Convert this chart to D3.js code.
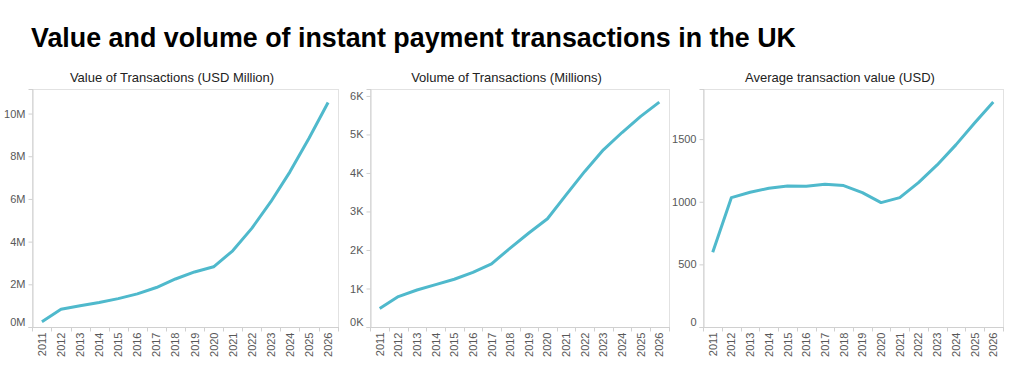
<!DOCTYPE html>
<html>
<head>
<meta charset="utf-8">
<script src="https://cdn.jsdelivr.net/npm/d3@7"></script>
<style>
  html, body { margin: 0; padding: 0; background: #fff; }
  svg { display: block; font-family: Arial, "Liberation Sans", sans-serif; }
</style>
</head>
<body>
<svg id="chart"></svg>
<script>
const W = 1024;
const H = 369;

// ── Data ──────────────────────────────────────────────────────────────────────

const YEARS = d3.range(2011, 2027).map(String);

// USD million
const VALUE = [0.25e6, 0.83e6, 1.0e6, 1.15e6, 1.33e6, 1.55e6, 1.85e6, 2.25e6,
               2.58e6, 2.82e6, 3.57e6, 4.62e6, 5.87e6, 7.27e6, 8.84e6, 10.52e6];

// millions of transactions
const VOLUME = [480, 790, 960, 1100, 1240, 1420, 1640, 2050,
                2440, 2810, 3430, 4040, 4600, 5050, 5470, 5840];

// USD per transaction
const AVERAGE = [596, 1033, 1076, 1108, 1126, 1124, 1140, 1129,
                 1073, 993, 1033, 1153, 1294, 1454, 1628, 1796];

const VALUE_TICKS   = [0, 2e6, 4e6, 6e6, 8e6, 10e6];
const VOLUME_TICKS  = [0, 1000, 2000, 3000, 4000, 5000, 6000];
const AVERAGE_TICKS = [0, 500, 1000, 1500];

const PANELS = [
  { title: 'Value of Transactions (USD Million)', data: VALUE,   max: 11.15e6, ticks: VALUE_TICKS,
    fmt: v => (v / 1e6) + 'M', x0: 32,  x1: 338 },
  { title: 'Volume of Transactions (Millions)',   data: VOLUME,  max: 6180,    ticks: VOLUME_TICKS,
    fmt: v => (v / 1000) + 'K', x0: 370, x1: 669 },
  { title: 'Average transaction value (USD)',     data: AVERAGE, max: 1900,    ticks: AVERAGE_TICKS,
    fmt: v => String(v), x0: 703, x1: 1003 },
];

const LINE_COLOR  = '#4fb9cc';
const FRAME_COLOR = '#e2e2e2';
const AXIS_COLOR  = '#d0d0d0';
const TEXT_COLOR  = '#585858';

const TOP = 89;
const BOTTOM = 327;

// ── SVG ───────────────────────────────────────────────────────────────────────

const svg = d3.select('#chart').attr('width', W).attr('height', H);

svg.append('text')
  .attr('x', 31).attr('y', 47)
  .attr('font-size', 28).attr('font-weight', 'bold').attr('fill', '#000')
  .attr('textLength', 765).attr('lengthAdjust', 'spacingAndGlyphs')
  .text('Value and volume of instant payment transactions in the UK');

PANELS.forEach(p => {
  const x = d3.scaleBand().domain(YEARS).range([p.x0, p.x1]).paddingInner(0).paddingOuter(0.02);
  const y = d3.scaleLinear().domain([0, p.max]).range([BOTTOM, TOP]);
  const g = svg.append('g');

  // frame
  g.append('rect')
    .attr('x', p.x0 + 0.5).attr('y', TOP + 0.5)
    .attr('width', p.x1 - p.x0).attr('height', BOTTOM - TOP)
    .attr('fill', 'none').attr('stroke', FRAME_COLOR);

  // panel title
  g.append('text')
    .attr('x', (p.x0 + p.x1) / 2 - 13).attr('y', 82)
    .attr('text-anchor', 'middle').attr('font-size', 13).attr('fill', '#222')
    .text(p.title);

  // y axis
  const yAxis = g.append('g')
    .attr('transform', `translate(${p.x0 + 0.5},0)`)
    .call(d3.axisLeft(y).tickValues(p.ticks).tickFormat(p.fmt).tickSize(4).tickPadding(3));
  yAxis.select('.domain').attr('stroke', AXIS_COLOR);
  yAxis.selectAll('.tick line').attr('stroke', AXIS_COLOR);
  yAxis.selectAll('.tick text')
    .attr('font-size', 11).attr('fill', TEXT_COLOR).attr('font-family', null)
    .attr('dy', v => v === 0 ? '-0.1em' : '0.32em');

  // x axis with ticks at category boundaries
  const xAxis = g.append('g').attr('transform', `translate(0,${BOTTOM + 0.5})`);
  xAxis.append('line')
    .attr('x1', p.x0).attr('x2', p.x1 + 1)
    .attr('stroke', AXIS_COLOR);
  const bounds = YEARS.map(d => x(d)).concat([x(YEARS[YEARS.length - 1]) + x.bandwidth()]);
  xAxis.selectAll('line.tick').data(bounds).join('line')
    .attr('class', 'tick')
    .attr('x1', d => Math.round(d) + 0.5).attr('x2', d => Math.round(d) + 0.5)
    .attr('y1', 0).attr('y2', 4)
    .attr('stroke', AXIS_COLOR);
  xAxis.selectAll('text').data(YEARS).join('text')
    .attr('transform', d => `translate(${x(d) + x.bandwidth() / 2 + 4},5) rotate(-90)`)
    .attr('text-anchor', 'end')
    .attr('font-size', 11).attr('fill', TEXT_COLOR)
    .text(d => d);

  // line
  const line = d3.line()
    .x((d, i) => x(YEARS[i]) + x.bandwidth() / 2)
    .y(d => y(d));
  g.append('path')
    .datum(p.data)
    .attr('d', line)
    .attr('fill', 'none')
    .attr('stroke', LINE_COLOR)
    .attr('stroke-width', 3)
    .attr('stroke-linejoin', 'round');
});
</script>
</body>
</html>
